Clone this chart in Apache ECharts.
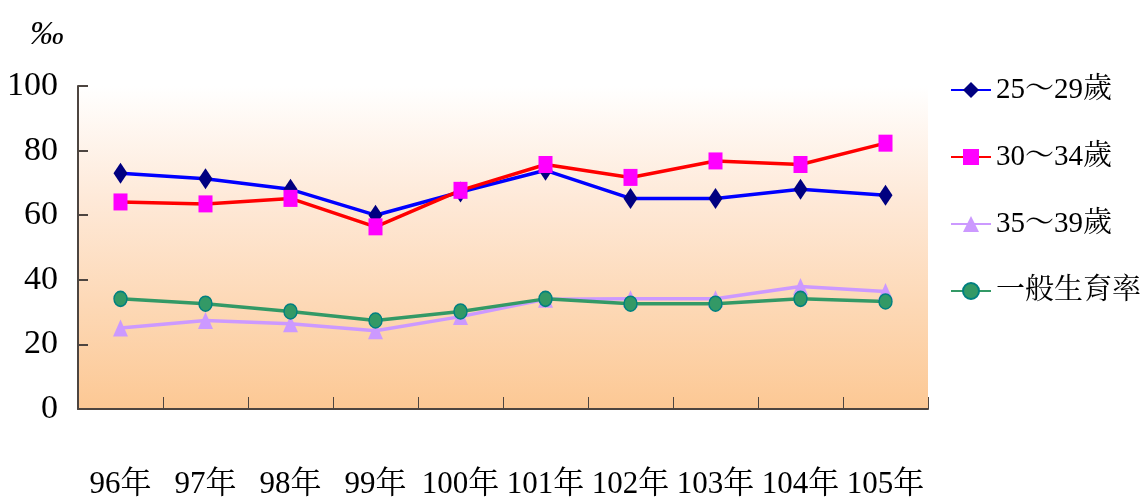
<!DOCTYPE html>
<html>
<head>
<meta charset="utf-8">
<script src="https://cdn.jsdelivr.net/npm/echarts@6/dist/echarts.min.js"></script>
<style>
  html, body { margin: 0; padding: 0; background: #fff; }
  #chart { width: 1146px; height: 504px; }
</style>
</head>
<body>
<div id="chart"></div>
<script>
// 年度別 年齡別生育率 (‰)
const years   = ['96年', '97年', '98年', '99年', '100年', '101年', '102年', '103年', '104年', '105年'];
const age2529 = [73, 71.3, 68, 60, 67.2, 73.9, 65.2, 65.2, 68, 66.2];
const age3034 = [64.1, 63.5, 65.2, 56.4, 67.7, 75.7, 71.7, 76.8, 75.7, 82.3];
const age3539 = [25.1, 27.4, 26.4, 24.2, 28.6, 34, 34.1, 34.1, 37.9, 36.4];
const gfr     = [34.1, 32.6, 30.2, 27.4, 30.2, 34.1, 32.6, 32.6, 34.1, 33.3];

const FONT = "'Liberation Serif', 'Noto Serif CJK TC', 'Noto Sans CJK TC', serif";
const AXIS_COL = '#4d4540';

const chart = echarts.init(document.getElementById('chart'), null, { renderer: 'canvas' });

const mkLine = (name, data, lineCol, symbol, size, fill, border) => ({
  name, type: 'line', data,
  symbol, symbolSize: size,
  lineStyle: { color: lineCol, width: 3.5 },
  itemStyle: { color: fill, borderColor: border || fill, borderWidth: border ? 1.5 : 0 },
  emphasis: { disabled: true },
  animation: false
});

chart.setOption({
  backgroundColor: '#ffffff',
  textStyle: { fontFamily: FONT },
  grid: {
    left: 78, right: 218, top: 86, bottom: 95,
    show: true, borderWidth: 0,
    backgroundColor: {
      type: 'linear', x: 0, y: 0, x2: 0, y2: 1,
      colorStops: [
        { offset: 0, color: '#ffffff' },
        { offset: 0.35, color: '#fee9d8' },
        { offset: 1, color: '#fcc894' }
      ]
    }
  },
  legend: {
    orient: 'vertical',
    left: 945, top: 68,
    itemWidth: 40, itemHeight: 20, itemGap: 33,
    textStyle: { fontFamily: FONT, fontSize: 29, color: '#000', lineHeight: 34 },
    data: ['25～29歲', '30～34歲', '35～39歲', '一般生育率']
  },
  graphic: [{
    type: 'text', left: 30, top: 18,
    style: { text: '‰', font: "italic 34px 'Liberation Serif', serif", fill: '#000' }
  }],
  xAxis: {
    type: 'category', data: years, boundaryGap: true,
    axisLine: { show: true, lineStyle: { color: AXIS_COL, width: 2 } },
    axisTick: { show: true, inside: true, length: 12, alignWithLabel: false, lineStyle: { color: AXIS_COL, width: 1 } },
    axisLabel: { fontFamily: FONT, fontSize: 31, color: '#000', margin: 60, interval: 0 },
    splitLine: { show: false }
  },
  yAxis: {
    type: 'value', min: 0, max: 100, interval: 20,
    axisLine: { show: true, lineStyle: { color: AXIS_COL, width: 2 } },
    axisTick: { show: true, inside: true, length: 10, lineStyle: { color: AXIS_COL, width: 2 } },
    axisLabel: { fontFamily: FONT, fontSize: 34, color: '#000', margin: 20 },
    splitLine: { show: false }
  },
  series: [
    mkLine('25～29歲', age2529, '#0000ff', 'diamond', [14, 21], '#000080'),
    mkLine('30～34歲', age3034, '#ff0000', 'rect', [14, 17], '#ff00ff'),
    mkLine('35～39歲', age3539, '#cc99ff', 'triangle', [15, 17], '#cc99ff'),
    mkLine('一般生育率', gfr, '#339966', 'circle', [13, 15], '#339966', '#008080')
  ]
});
</script>
</body>
</html>
